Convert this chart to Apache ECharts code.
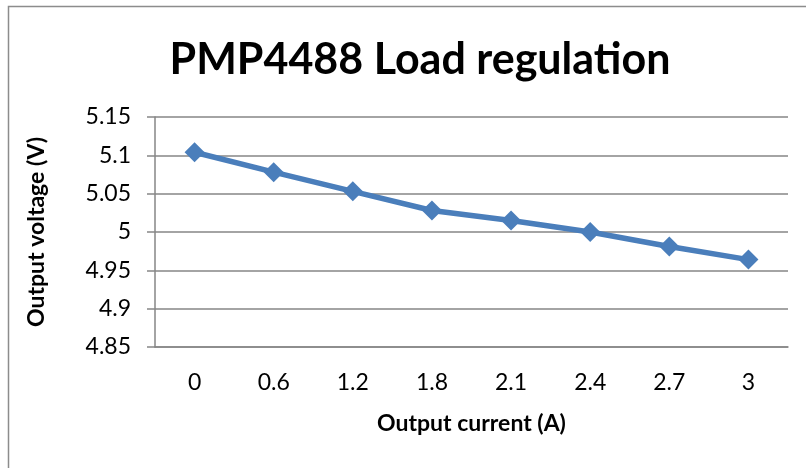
<!DOCTYPE html>
<html>
<head>
<meta charset="utf-8">
<script src="https://cdn.jsdelivr.net/npm/echarts@6/dist/echarts.min.js"></script>
<style>
    html, body { margin: 0; padding: 0; background: #fff; }
    #chart { width: 806px; height: 468px; }
</style>
</head>
<body>
<div id="chart"></div>
<script>
// 数据
var currents = ['0', '0.6', '1.2', '1.8', '2.1', '2.4', '2.7', '3'];
var voltages = [5.104, 5.078, 5.053, 5.028, 5.015, 5.000, 4.981, 4.964];
var yMin = 4.85, yMax = 5.15, yStep = 0.05;

var font = 'Lato, "Open Sans", sans-serif';
var chart = echarts.init(document.getElementById('chart'));

var option = {
    animation: false,
    backgroundColor: '#fff',
    title: {
        text: 'PMP4488 Load regulation',
        left: 415,
        top: 34,
        textAlign: 'center',
        textStyle: { fontFamily: font, fontSize: 43, fontWeight: 'bold', color: '#000' }
    },
    graphic: [{
        type: 'rect',
        shape: { x: 8.5, y: 6.5, width: 810, height: 470 },
        style: { fill: 'none', stroke: '#8c8c8c', lineWidth: 1.5 },
        silent: true
    }],
    grid: { left: 155, right: 18, top: 117, bottom: 121 },
    xAxis: {
        type: 'category',
        data: currents,
        boundaryGap: true,
        name: 'Output current (A)',
        nameLocation: 'middle',
        nameGap: 65,
        nameTextStyle: { fontFamily: font, fontSize: 23, fontWeight: 'bold', color: '#000' },
        axisLine: { lineStyle: { color: '#868686', width: 1.5 } },
        axisTick: { show: false },
        axisLabel: { fontFamily: font, fontSize: 23, color: '#000', margin: 24 }
    },
    yAxis: {
        type: 'value',
        min: yMin,
        max: yMax,
        interval: yStep,
        name: 'Output voltage (V)',
        nameLocation: 'middle',
        nameGap: 107,
        nameTextStyle: { fontFamily: font, fontSize: 23, fontWeight: 'bold', color: '#000' },
        axisLine: { show: true, lineStyle: { color: '#868686', width: 1.5 } },
        axisTick: { show: true, length: 8, lineStyle: { color: '#868686', width: 1.5 } },
        splitLine: { lineStyle: { color: '#868686', width: 1.5 } },
        axisLabel: {
            fontFamily: font, fontSize: 23, color: '#000', margin: 24,
            formatter: function (v) { return String(parseFloat(v.toFixed(2))); }
        }
    },
    series: [{
        type: 'line',
        data: voltages,
        symbol: 'diamond',
        symbolSize: 20,
        lineStyle: { color: '#4a7ebb', width: 5.5 },
        itemStyle: { color: '#4a7ebb' }
    }]
};
chart.setOption(option);
</script>
</body>
</html>
